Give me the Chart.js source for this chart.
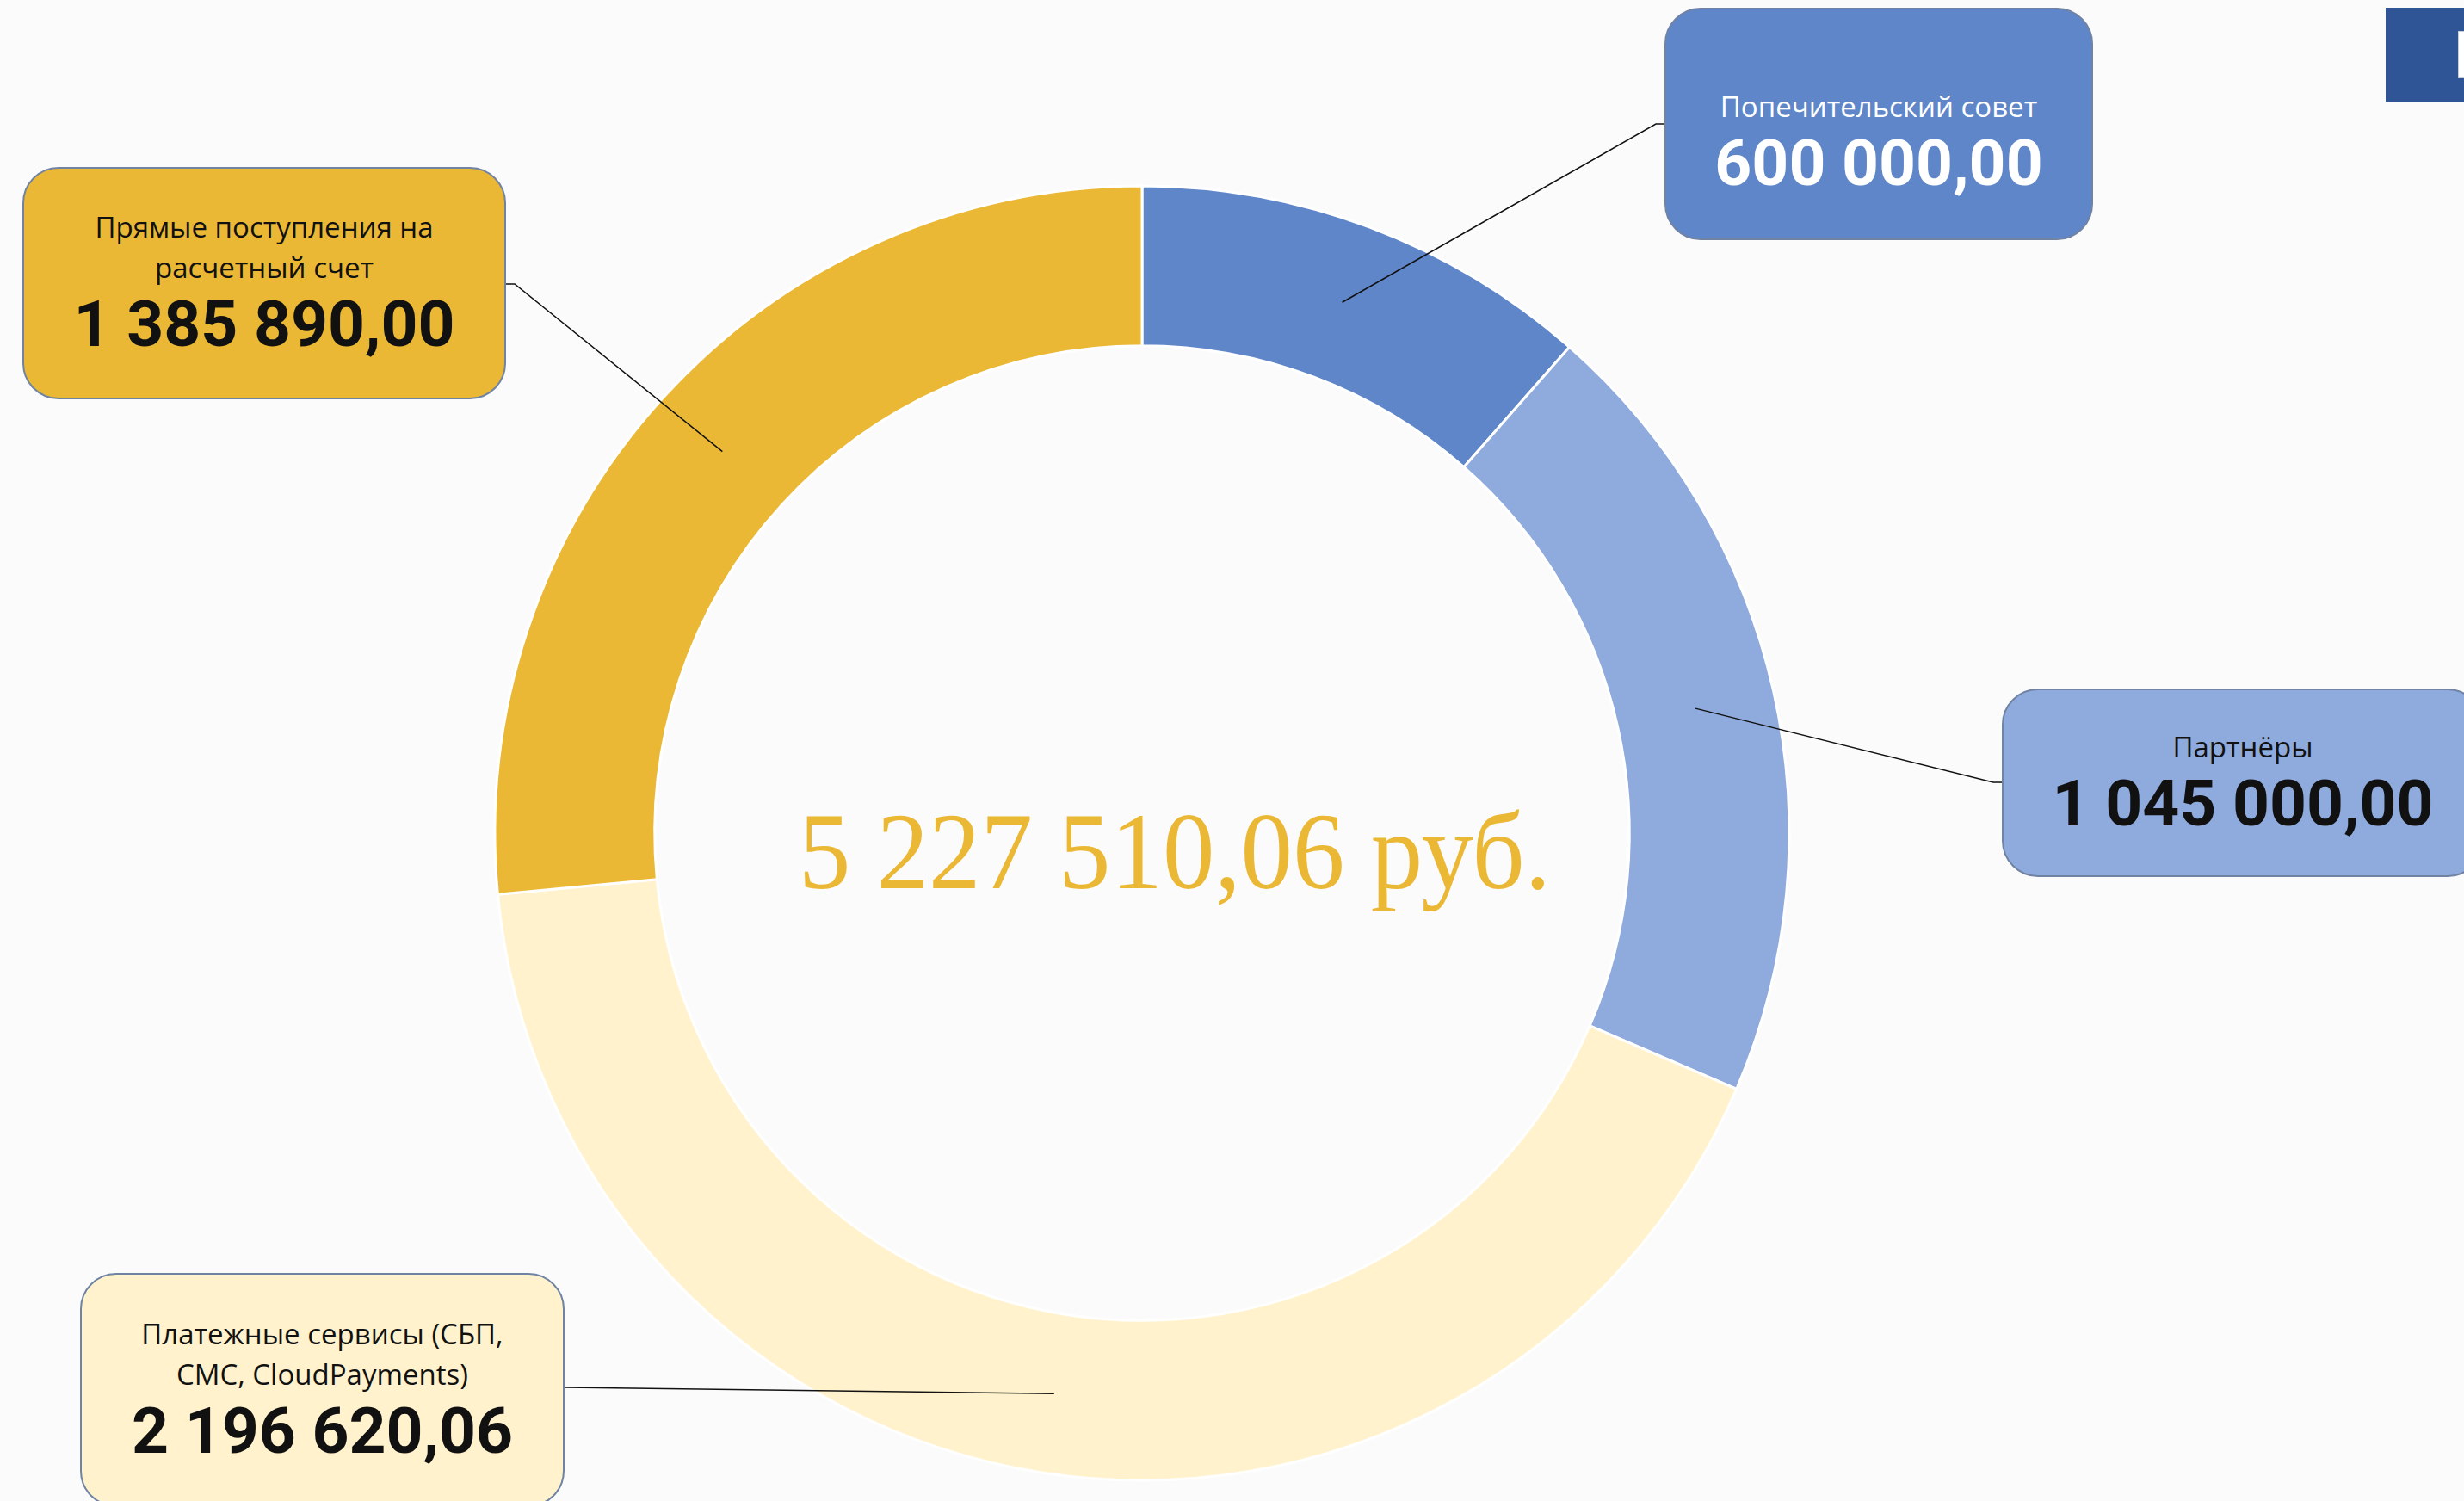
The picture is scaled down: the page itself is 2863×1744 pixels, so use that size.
<!DOCTYPE html>
<html lang="ru">
<head>
<meta charset="utf-8">
<script src="https://cdn.jsdelivr.net/npm/chart.js@4"></script>
<style>
  html, body { margin: 0; padding: 0; }
  body { width: 2863px; height: 1744px; overflow: hidden; background: #fbfbfb; position: relative; }
  #income-chart { position: absolute; left: 0; top: 0; }
  .box {
    position: absolute; box-sizing: border-box;
    border: 2px solid #7083a3; border-radius: 42px;
    display: flex; flex-direction: column; align-items: center; justify-content: center;
    text-align: center;
  }
  .box .name { font-family: "Open Sans", sans-serif; font-size: 33px; line-height: 47px; white-space: pre-line; }
  .box .sum { font-family: Roboto, sans-serif; font-weight: 700; font-size: 75px; line-height: 84px; }
  .corner { position: absolute; left: 2772px; top: 9px; width: 100px; height: 109px; background: #2f5597; }
  .corner i { position: absolute; left: 84px; top: 27px; width: 16px; height: 53px; background: #fff; border: 1px solid #c8cdd6; }
</style>
</head>
<body>
<canvas id="income-chart" width="2863" height="1744"></canvas>
<div class="corner"><i></i></div>
<script>
// источники поступлений, по часовой стрелке от верха
var categories = [
  "Попечительский совет",
  "Партнёры",
  "Платежные сервисы (СБП,\nСМС, CloudPayments)",
  "Прямые поступления на\nрасчетный счет"
];
var amounts = [600000.00, 1045000.00, 2196620.06, 1385890.00];
var colors = ["#5f86c9", "#8faadc", "#fff2cc", "#ebb835"];
var currency = "руб.";

// где стоят подписи (только оформление)
var boxes = [
  { left: 1934, top: 9,    width: 498, height: 270, text: "#ffffff", side: "left",  y: 144, pad: 42 },
  { left: 2326, top: 800,  width: 560, height: 219, text: "#111111", side: "left",  y: 909, pad: 0 },
  { left: 93,   top: 1479, width: 563, height: 272, text: "#111111", side: "right", y: 1612, pad: 0, straight: true },
  { left: 26,   top: 194,  width: 562, height: 270, text: "#111111", side: "right", y: 330, pad: 0 }
];

function fmt(v) {
  var parts = v.toFixed(2).split(".");
  return parts[0].replace(/\B(?=(\d{3})+(?!\d))/g, " ") + "," + parts[1];
}

categories.forEach(function (name, i) {
  var b = boxes[i];
  var el = document.createElement("div");
  el.className = "box";
  el.style.left = b.left + "px";
  el.style.top = b.top + "px";
  el.style.width = b.width + "px";
  el.style.height = b.height + "px";
  el.style.paddingTop = b.pad + "px";
  el.style.background = colors[i];
  el.style.color = b.text;
  el.innerHTML = '<div class="name"></div><div class="sum"></div>';
  el.querySelector(".name").textContent = name;
  el.querySelector(".sum").textContent = fmt(amounts[i]);
  document.body.appendChild(el);
});

var connectors = {
  id: "connectors",
  afterDatasetsDraw: function (chart) {
    var ctx = chart.ctx;
    var arcs = chart.getDatasetMeta(0).data;
    ctx.save();
    ctx.strokeStyle = "#111111";
    ctx.lineWidth = 1.5;
    arcs.forEach(function (arc, i) {
      var p = arc.getCenterPoint();
      var b = boxes[i];
      var edge = b.side === "left" ? b.left : b.left + b.width;
      var elbow = b.side === "left" ? edge - 10 : edge + 10;
      ctx.beginPath();
      ctx.moveTo(p.x, p.y);
      if (!b.straight) ctx.lineTo(elbow, b.y);
      ctx.lineTo(edge, b.y);
      ctx.stroke();
    });
    ctx.restore();
  }
};

var centerTotal = {
  id: "centerTotal",
  afterDraw: function (chart) {
    var ctx = chart.ctx;
    var arc = chart.getDatasetMeta(0).data[0];
    var total = amounts.reduce(function (a, b) { return a + b; }, 0);
    var txt = fmt(total) + " " + currency;
    ctx.save();
    ctx.font = '127px "Liberation Serif", serif';
    ctx.fillStyle = "#ebb835";
    ctx.textAlign = "center";
    ctx.textBaseline = "alphabetic";
    var w = ctx.measureText(txt).width;
    var sx = 874 / w;
    ctx.translate(arc.x + 38, arc.y + 64);
    ctx.scale(sx, 1);
    ctx.fillText(txt, 0, 0);
    ctx.restore();
  }
};

var myChart = new Chart(document.getElementById("income-chart").getContext("2d"), {
  type: "doughnut",
  data: {
    labels: categories,
    datasets: [{
      label: "Поступления",
      data: amounts,
      backgroundColor: colors,
      borderColor: "#ffffff",
      borderWidth: 3,
      hoverOffset: 0
    }]
  },
  options: {
    responsive: false,
    animation: false,
    events: [],
    radius: 752,
    cutout: "75.3%",
    layout: { padding: { left: 0, right: 209, top: 192, bottom: 0 } },
    plugins: {
      legend: { display: false },
      tooltip: { enabled: false }
    }
  },
  plugins: [connectors, centerTotal]
});
</script>
</body>
</html>
